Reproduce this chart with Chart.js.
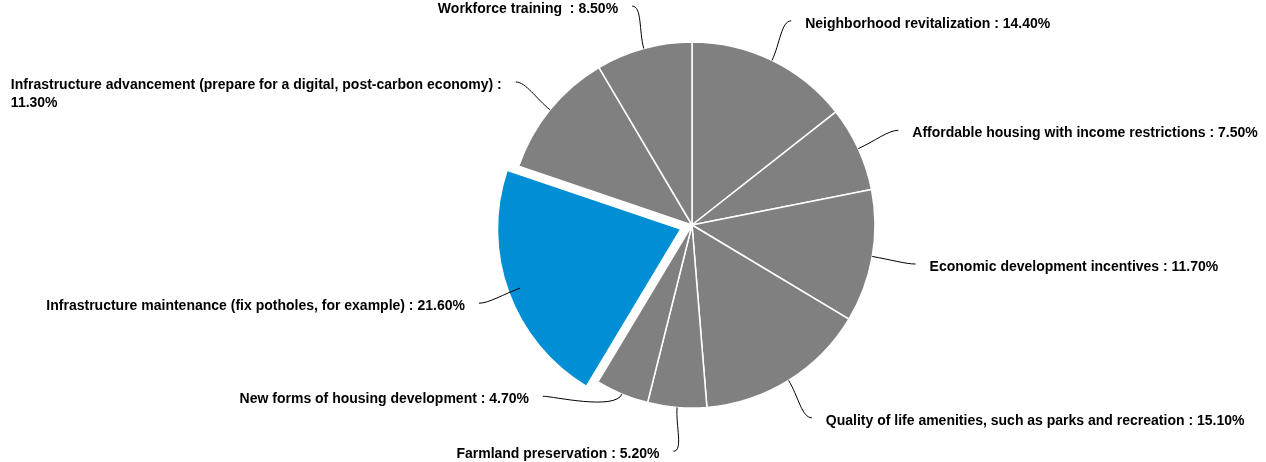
<!DOCTYPE html>
<html><head><meta charset="utf-8">
<script src="https://cdn.jsdelivr.net/npm/chart.js@4"></script>
<style>html,body{margin:0;padding:0;background:#fff;overflow:hidden}#wrap{width:1266px;height:462px;position:relative}</style>
</head><body><div id="wrap"><canvas id="c" width="1266" height="462"></canvas></div>
<script>
const categories = [
  "Neighborhood revitalization",
  "Affordable housing with income restrictions",
  "Economic development incentives",
  "Quality of life amenities, such as parks and recreation",
  "Farmland preservation",
  "New forms of housing development",
  "Infrastructure maintenance (fix potholes, for example)",
  "Infrastructure advancement (prepare for a digital, post-carbon economy)",
  "Workforce training "
];
const shares = [14.4, 7.5, 11.7, 15.1, 5.2, 4.7, 21.6, 11.3, 8.5];
const highlightCategory = "Infrastructure maintenance (fix potholes, for example)";

const GREY = '#808080', BLUE = '#008fd4';
const FONT = 'bold 14px "Liberation Sans", Arial, Helvetica, sans-serif';

const labelPlugin = {
  id: 'pieLabels',
  afterDatasetsDraw(chart, args, opts) {
    const ctx = chart.ctx;
    const meta = chart.getDatasetMeta(0);
    const W = chart.width;
    const items = [];
    meta.data.forEach((arc, i) => {
      const cx = arc.x, cy = arc.y, r = arc.outerRadius;
      const mid = (arc.startAngle + arc.endAngle) / 2;
      const ux = Math.cos(mid), uy = Math.sin(mid);
      const side = ux >= 0 ? 1 : -1;
      const R = r + opts.distance;
      items.push({i, cx, cy, r, R, ux, uy, side,
        p0x: cx + ux * r, p0y: cy + uy * r,
        ax: cx + ux * R, ay: cy + uy * R,
        text: categories[i] + ' : ' + shares[i].toFixed(2) + '%'});
    });
    // collision resolution per side (push upward from the bottom)
    [1, -1].forEach(s => {
      const list = items.filter(o => o.side === s).sort((a, b) => a.ay - b.ay);
      for (let k = list.length - 2; k >= 0; k--) {
        const cur = list[k], below = list[k + 1];
        if (cur.ay > below.ay - opts.minGap) {
          cur.ay = below.ay - opts.minGap;
          const dy = cur.ay - cur.cy;
          cur.ax = cur.cx + s * Math.sqrt(Math.max(0, cur.R * cur.R - dy * dy));
        }
      }
    });
    ctx.save();
    ctx.font = FONT;
    ctx.fillStyle = '#000';
    ctx.strokeStyle = '#000';
    ctx.lineWidth = 1;
    items.forEach(o => {
      // leader line
      ctx.beginPath();
      ctx.moveTo(o.p0x, o.p0y);
      ctx.bezierCurveTo(o.p0x + o.ux * 18, o.p0y + o.uy * 18,
                        o.ax - o.side * 10, o.ay, o.ax, o.ay);
      ctx.stroke();
      // text (wrap if it would leave the canvas)
      const tx = o.ax + o.side * opts.gap;
      const avail = o.side > 0 ? (W - opts.margin - tx) : (tx - opts.margin);
      let lines = [o.text];
      if (ctx.measureText(o.text).width > avail) {
        const words = o.text.split(' ');
        lines = []; let line = '';
        words.forEach(w => {
          const test = line ? line + ' ' + w : w;
          if (ctx.measureText(test).width > avail && line) { lines.push(line); line = w; }
          else line = test;
        });
        if (line) lines.push(line);
      }
      const maxW = Math.max(...lines.map(l => ctx.measureText(l).width));
      const left = o.side > 0 ? tx : tx - maxW;
      ctx.textAlign = 'left';
      ctx.textBaseline = 'middle';
      lines.forEach((l, k) => {
        const lx = lines.length > 1 ? left : (o.side > 0 ? tx : tx - ctx.measureText(l).width);
        ctx.fillText(l, lx, o.ay + opts.textDy + k * opts.lineHeight);
      });
    });
    ctx.restore();
  }
};

new Chart(document.getElementById('c'), {
  type: 'pie',
  data: {
    labels: categories,
    datasets: [{
      data: shares,
      backgroundColor: categories.map(c => c === highlightCategory ? BLUE : GREY),
      offset: categories.map(c => c === highlightCategory ? 48 : 0),
      borderColor: '#ffffff',
      borderWidth: 1.5
    }]
  },
  options: {
    responsive: false,
    devicePixelRatio: 1,
    animation: false,
    radius: 183,
    layout: { padding: { left: 118, right: 0, top: 0, bottom: 12 } },
    plugins: {
      legend: { display: false },
      tooltip: { enabled: false },
      pieLabels: { distance: 44, gap: 14, minGap: 55, margin: 5, lineHeight: 18, textDy: 3 }
    }
  },
  plugins: [labelPlugin]
});
</script>
</body></html>
